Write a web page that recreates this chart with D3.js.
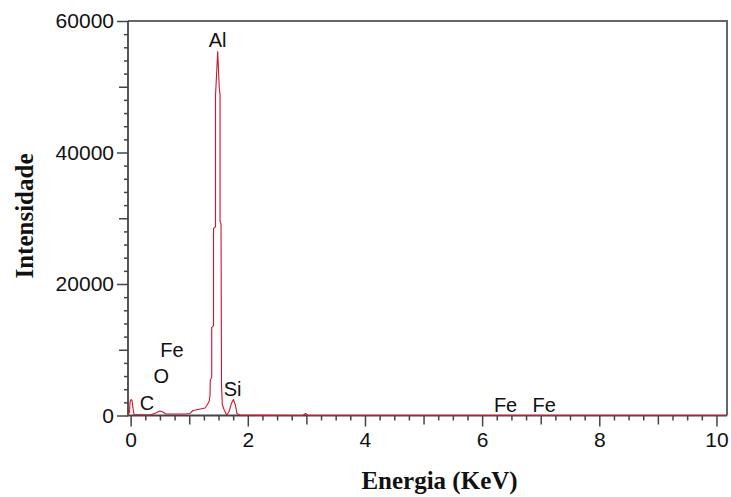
<!DOCTYPE html>
<html>
<head>
<meta charset="utf-8">
<script src="https://cdn.jsdelivr.net/npm/d3@7"></script>
<style>
  body { margin: 0; background: #fff; }
  svg { display: block; }
</style>
</head>
<body>
<div id="chart"></div>
<script>
// spectrum (keV, counts)
const energy = [-0.045, -0.019, -0.010, 0.007, 0.024, 0.041, 0.058, 0.33, 0.43, 0.50, 0.55, 0.60,
    0.93, 1.01, 1.065, 1.15, 1.27, 1.30, 1.34, 1.355, 1.360, 1.384, 1.384, 1.415, 1.415, 1.449,
    1.449, 1.486, 1.514, 1.526, 1.526, 1.543, 1.551, 1.565, 1.594, 1.640, 1.68, 1.72, 1.755,
    1.79, 1.815, 1.87, 2.94, 2.985, 3.03, 10.18];
const counts = [150, 460, 2130, 2430, 2280, 1060, 150, 80, 380, 680, 530, 230,
    230, 300, 760, 910, 1140, 1520, 2130, 3040, 5470, 5780, 13380, 13680, 28420, 28730,
    48640, 55370, 49700, 48800, 29490, 29180, 4710, 1670, 910, 80, 610, 1820, 2430,
    1520, 300, 30, 0, 300, 0, 0];

// element labels: name, energy (keV), height (counts)
const labelNames = ["C", "O", "Fe", "Al", "Si", "Fe", "Fe"];
const labelEnergy = [0.277, 0.525, 0.705, 1.486, 1.74, 6.40, 7.06];
const labelCounts = [900, 5000, 8970, 56100, 3040, 600, 600];

const xMajor = [0, 2, 4, 6, 8, 10];
const yMajor = [0, 20000, 40000, 60000];

const width = 731, height = 497;
const mLeft = 128, mRight = 727, mTop = 21, mBottom = 415.5;

const svg = d3.select("#chart").append("svg")
    .attr("width", width)
    .attr("height", height);

const x = d3.scaleLinear().domain([-0.045, 10.18]).range([mLeft, mRight]);
const y = d3.scaleLinear().domain([0, 60000]).range([mBottom, mTop]);

const tickFont = "'Liberation Sans', Arial, sans-serif";
const axisColor = "#444";

// frame top / right
svg.append("path")
    .attr("d", `M${mLeft},${mTop}H${mRight}V${mBottom}`)
    .attr("fill", "none")
    .attr("stroke", "#666")
    .attr("stroke-width", 2);

// x axis: minor, medium, major
function xAxis(values, size, labels) {
    const g = svg.append("g")
        .attr("transform", `translate(0,${mBottom})`)
        .call(d3.axisBottom(x).tickValues(values).tickSize(size).tickSizeOuter(0)
            .tickPadding(6).tickFormat(labels ? d3.format("d") : ""));
    g.select(".domain").remove();
    g.selectAll("line").attr("stroke", axisColor).attr("stroke-width", 1.5);
    g.selectAll("text").attr("font-family", tickFont).attr("font-size", 21).attr("fill", "#111");
}
xAxis(d3.range(0, 10.01, 0.25).filter(v => v % 1 != 0), 5, false);
xAxis([1, 3, 5, 7, 9], 9, false);
xAxis(xMajor, 11, true);

function yAxis(values, size, labels) {
    const g = svg.append("g")
        .attr("transform", `translate(${mLeft},0)`)
        .call(d3.axisLeft(y).tickValues(values).tickSize(size).tickSizeOuter(0)
            .tickPadding(3).tickFormat(labels ? d3.format("d") : ""));
    g.select(".domain").remove();
    g.selectAll("line").attr("stroke", axisColor).attr("stroke-width", 1.5);
    g.selectAll("text").attr("font-family", tickFont).attr("font-size", 21).attr("fill", "#111");
}
yAxis(d3.range(0, 60001, 2000).filter(v => v % 10000 != 0), 4, false);
yAxis([10000, 30000, 50000], 9, false);
yAxis(yMajor, 11, true);

// axis lines
svg.append("path")
    .attr("d", `M${mLeft},${mTop}V${mBottom}H${mRight}`)
    .attr("fill", "none")
    .attr("stroke", axisColor)
    .attr("stroke-width", 1.8);

// spectrum
const pts = energy.map((e, i) => [e, counts[i]]);
svg.append("path")
    .datum(pts)
    .attr("fill", "none")
    .attr("stroke", "#d0142c")
    .attr("stroke-width", 1.1)
    .attr("stroke-linejoin", "round")
    .attr("d", d3.line().x(d => x(d[0])).y(d => y(d[1])));

// element labels
svg.selectAll(".lbl")
    .data(labelNames)
    .enter()
    .append("text")
        .attr("x", (d, i) => x(labelEnergy[i]))
        .attr("y", (d, i) => y(labelCounts[i]))
        .attr("text-anchor", "middle")
        .attr("font-family", tickFont)
        .attr("font-size", 20)
        .attr("fill", "#111")
        .text(d => d);

// axis titles
svg.append("text")
    .attr("x", (mLeft + mRight) / 2 + 12)
    .attr("y", 489)
    .attr("text-anchor", "middle")
    .attr("font-family", "'Liberation Serif', 'Times New Roman', serif")
    .attr("font-weight", "bold")
    .attr("font-size", 25)
    .attr("fill", "#111")
    .text("Energia (KeV)");

svg.append("text")
    .attr("transform", "translate(33,216) rotate(-90)")
    .attr("text-anchor", "middle")
    .attr("font-family", "'Liberation Serif', 'Times New Roman', serif")
    .attr("font-weight", "bold")
    .attr("font-size", 25)
    .attr("fill", "#111")
    .text("Intensidade");
</script>
</body>
</html>
